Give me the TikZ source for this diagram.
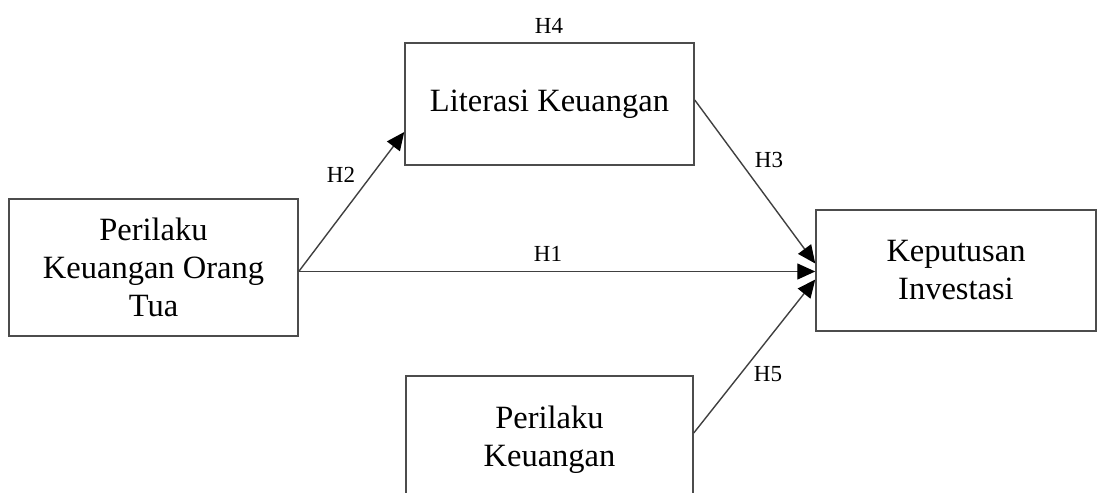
\documentclass[tikz,border=0pt]{standalone}
\usepackage{fontspec}
\setmainfont{Liberation Serif}
\usetikzlibrary{arrows.meta,positioning}

\tikzset{
  var/.style={draw=black!70, line width=0.75pt, align=center, inner sep=0pt,
    font=\fontsize{16.25}{19}\selectfont},
  hyp/.style={font=\fontsize{11.5}{13}\selectfont, inner sep=1pt},
  link/.style={draw=black!75, line width=0.7pt, -{Triangle[length=9pt,width=8pt,color=black]}}
}

\begin{document}
\begin{tikzpicture}[x=0.5pt,y=-0.5pt]
	\useasboundingbox (0,0) rectangle (1099,493);
	\clip (0,0) rectangle (1099,493);
	% variabel
	\node[var, minimum width=144.5pt, minimum height=61pt] (literasi) at (549.5,104) {Literasi Keuangan};
	\node[var, minimum width=144.5pt, minimum height=68.5pt] (ortu) at (153.5,267.5) {Perilaku\\Keuangan Orang\\Tua};
	\node[var, minimum width=140pt, minimum height=60.5pt] (keputusan) at (956,270.5) {Keputusan\\Investasi};
	\node[var, minimum width=143.5pt, minimum height=64pt] (perilaku) at (549.5,440) {Perilaku\\Keuangan};
	% hipotesis
	\draw[link] ([yshift=-2pt]ortu.east) -- ([yshift=-0.5pt]keputusan.west);
	\draw[link] ([yshift=-2pt]ortu.east) -- ([yshift=-14pt]literasi.west);
	\draw[link] ([yshift=2pt]literasi.east) -- ([yshift=3.5pt]keputusan.west);
	\draw[link] ([yshift=3.5pt]perilaku.east) -- ([yshift=-4.5pt]keputusan.west);
	\node[hyp] (h4) at (549,25.5) {H4};
	\node[hyp] (h2) at (341,175) {H2};
	\node[hyp] (h3) at (769,160) {H3};
	\node[hyp] (h1) at (548,254) {H1};
	\node[hyp] (h5) at (768,374) {H5};
\end{tikzpicture}
\end{document}
